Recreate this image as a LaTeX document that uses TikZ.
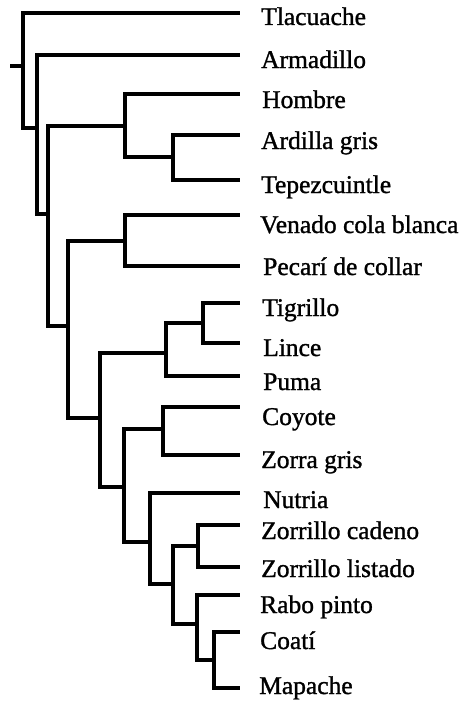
\documentclass[tikz,border=0pt]{standalone}
\usepackage{fontspec}
\setmainfont{Liberation Serif}
\newfontfamily\taxfont{Liberation Serif}[FakeBold=1.2]
\begin{document}
\begin{tikzpicture}[x=1pt,y=-1pt,
  branch/.style={line width=4pt, line join=miter, line cap=rect},
  taxon/.style={anchor=base west, inner sep=0pt, font=\taxfont\fontsize{25.5}{30}\selectfont}]
\useasboundingbox (0,0) rectangle (460,701);
% internal nodes (vertical x, join y)
\coordinate (stub) at (12,66);
\coordinate (r) at (23,66);
\coordinate (A) at (37,128);
\coordinate (B) at (48,214);
\coordinate (C) at (125,126);
\coordinate (E) at (173,157);
\coordinate (D) at (68,326);
\coordinate (F) at (125,241);
\coordinate (G) at (100,418);
\coordinate (H) at (166,353);
\coordinate (J) at (203,323);
\coordinate (I) at (124,487);
\coordinate (K) at (163,429);
\coordinate (L) at (150,542);
\coordinate (M) at (173,584);
\coordinate (N) at (198,546);
\coordinate (O) at (197,624);
\coordinate (P) at (214,660);
% leaf tips
\coordinate (t1) at (238,13);
\coordinate (t2) at (238,55);
\coordinate (t3) at (238,94);
\coordinate (t4) at (238,135);
\coordinate (t5) at (238,180);
\coordinate (t6) at (238,215);
\coordinate (t7) at (238,266);
\coordinate (t8) at (238,303);
\coordinate (t9) at (238,343);
\coordinate (t10) at (238,376);
\coordinate (t11) at (238,407);
\coordinate (t12) at (238,455);
\coordinate (t13) at (238,493);
\coordinate (t14) at (238,525);
\coordinate (t15) at (238,567);
\coordinate (t16) at (238,595);
\coordinate (t17) at (238,632);
\coordinate (t18) at (238,688);
% labels
\node[taxon] (l1) at (261,25) {Tlacuache};
\node[taxon] (l2) at (261,68) {Armadillo};
\node[taxon] (l3) at (262,108) {Hombre};
\node[taxon] (l4) at (261,149) {Ardilla gris};
\node[taxon] (l5) at (261,193) {Tepezcuintle};
\node[taxon] (l6) at (260,233) {Venado cola blanca};
\node[taxon] (l7) at (263,275) {Pecarí de collar};
\node[taxon] (l8) at (262,316) {Tigrillo};
\node[taxon] (l9) at (263,356) {Lince};
\node[taxon] (l10) at (263,390) {Puma};
\node[taxon] (l11) at (262,425) {Coyote};
\node[taxon] (l12) at (261,468) {Zorra gris};
\node[taxon] (l13) at (263,508) {Nutria};
\node[taxon] (l14) at (261,539) {Zorrillo cadeno};
\node[taxon] (l15) at (261,577) {Zorrillo listado};
\node[taxon] (l16) at (260,613) {Rabo pinto};
\node[taxon] (l17) at (260,649) {Coatí};
\node[taxon] (l18) at (259,694) {Mapache};
% branches
\draw[branch] (stub) -- (r);
\draw[branch] (t1) -| (r);
\draw[branch] (A) -| (r);
\draw[branch] (t2) -| (A);
\draw[branch] (B) -| (A);
\draw[branch] (C) -| (B);
\draw[branch] (D) -| (B);
\draw[branch] (t3) -| (C);
\draw[branch] (E) -| (C);
\draw[branch] (t4) -| (E);
\draw[branch] (t5) -| (E);
\draw[branch] (F) -| (D);
\draw[branch] (G) -| (D);
\draw[branch] (t6) -| (F);
\draw[branch] (t7) -| (F);
\draw[branch] (H) -| (G);
\draw[branch] (I) -| (G);
\draw[branch] (J) -| (H);
\draw[branch] (t10) -| (H);
\draw[branch] (t8) -| (J);
\draw[branch] (t9) -| (J);
\draw[branch] (K) -| (I);
\draw[branch] (L) -| (I);
\draw[branch] (t11) -| (K);
\draw[branch] (t12) -| (K);
\draw[branch] (t13) -| (L);
\draw[branch] (M) -| (L);
\draw[branch] (N) -| (M);
\draw[branch] (O) -| (M);
\draw[branch] (t14) -| (N);
\draw[branch] (t15) -| (N);
\draw[branch] (t16) -| (O);
\draw[branch] (P) -| (O);
\draw[branch] (t17) -| (P);
\draw[branch] (t18) -| (P);
\end{tikzpicture}
\end{document}
